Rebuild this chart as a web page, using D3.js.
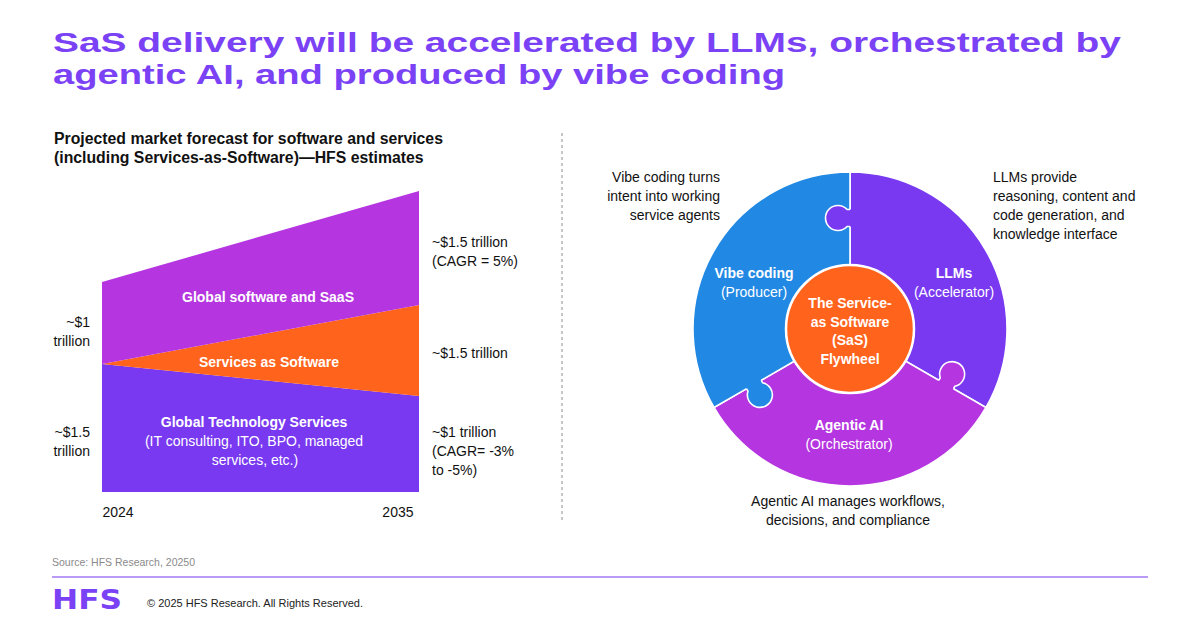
<!DOCTYPE html>
<html>
<head>
<meta charset="utf-8">
<script src="https://cdn.jsdelivr.net/npm/d3@7"></script>
<style>
  body { margin: 0; background: #fff; }
  svg text { font-family: "Liberation Sans", Arial, sans-serif; }
</style>
</head>
<body>
<div id="chart"></div>
<script>
// ---- data ----
const years = [2024, 2035];
// relative size of each market band (stacked, bottom to top)
const techServices = [1.28, 0.96];
const servicesAsSoftware = [0, 0.91];
const softwareSaaS = [0.82, 1.14];
const seriesKeys = ['tech', 'sas', 'software'];

const leftNotes = [['~$1', 'trillion'], ['~$1.5', 'trillion']];
const rightNotes = [
  ['~$1.5 trillion', '(CAGR = 5%)'],
  ['~$1.5 trillion'],
  ['~$1 trillion', '(CAGR= -3%', 'to -5%)']
];

// flywheel pieces (clockwise from 12 o'clock)
const pieceNames = ['LLMs', 'Agentic AI', 'Vibe coding'];
const pieceRoles = ['(Accelerator)', '(Orchestrator)', '(Producer)'];
const pieceShare = [1, 1, 1];
const hubLines = ['The Service-', 'as Software', '(SaS)', 'Flywheel'];

const colors = {
  tech: '#7839F1', sas: '#FF631C', software: '#B535E0',
  blue: '#2189E3', title: '#7B42F5'
};

const W = 1200, H = 627;
const svg = d3.select('#chart').append('svg')
  .attr('width', W).attr('height', H);

// ---- header ----
const title = svg.append('g').attr('fill', colors.title)
  .style('font-family', '"DejaVu Sans", sans-serif')
  .style('font-weight', 'bold').style('font-size', '27px');
title.append('text').attr('x', 53).attr('y', 52)
  .attr('textLength', 1068).attr('lengthAdjust', 'spacingAndGlyphs')
  .text('SaS delivery will be accelerated by LLMs, orchestrated by');
title.append('text').attr('x', 53).attr('y', 84)
  .attr('textLength', 732).attr('lengthAdjust', 'spacingAndGlyphs')
  .text('agentic AI, and produced by vibe coding');

const sub = svg.append('g').style('font-weight', 'bold').style('font-size', '15.8px').attr('fill', '#111');
sub.append('text').attr('x', 54).attr('y', 144).text('Projected market forecast for software and services');
sub.append('text').attr('x', 54).attr('y', 163).text('(including Services-as-Software)\u2014HFS estimates');

// ---- stacked area ----
const table = years.map((y, i) => ({
  year: y, tech: techServices[i], sas: servicesAsSoftware[i], software: softwareSaaS[i]
}));
const stack = d3.stack().keys(seriesKeys);
const layers = stack(table);

const x = d3.scaleLinear().domain(d3.extent(years)).range([102, 419]);
const y = d3.scaleLinear()
  .domain([0, d3.max(table, d => d.tech + d.sas + d.software)])
  .range([492, 191]);

const area = d3.area()
  .x(d => x(d.data.year))
  .y0(d => y(d[0]))
  .y1(d => y(d[1]));

svg.append('g').selectAll('path')
  .data(layers)
  .join('path')
  .attr('d', area)
  .attr('fill', d => colors[d.key]);

// year axis
const xAxis = svg.append('g')
  .attr('transform', 'translate(0,504)')
  .call(d3.axisBottom(x).tickValues(years).tickFormat(d3.format('d')).tickSize(0));
xAxis.select('.domain').remove();
xAxis.selectAll('text')
  .style('font-family', '"Liberation Sans", Arial, sans-serif')
  .style('font-size', '14px').attr('fill', '#111').attr('dy', '0.7em')
  .attr('dx', (d, i) => i === 0 ? 0 : -6)
  .attr('text-anchor', (d, i) => i === 0 ? 'start' : 'end');

// band labels
const inner = svg.append('g').attr('fill', '#fff').attr('text-anchor', 'middle').style('font-size', '14px');
inner.append('text').attr('x', 268).attr('y', 302).style('font-weight', 'bold').text('Global software and SaaS');
inner.append('text').attr('x', 269).attr('y', 367).style('font-weight', 'bold').text('Services as Software');
inner.append('text').attr('x', 254).attr('y', 427).style('font-weight', 'bold').text('Global Technology Services');
inner.append('text').attr('x', 254).attr('y', 446).text('(IT consulting, ITO, BPO, managed');
inner.append('text').attr('x', 255).attr('y', 465).text('services, etc.)');

// side notes
function lines(g, arr, x0, y0, anchor) {
  arr.forEach((t, i) => g.append('text').attr('x', x0).attr('y', y0 + i * 19)
    .attr('text-anchor', anchor).text(t));
}
const notes = svg.append('g').attr('fill', '#111').style('font-size', '14px');
[327, 437].forEach((yy, i) => lines(notes, leftNotes[i], 90, yy, 'end'));
[247, 358, 437].forEach((yy, i) => lines(notes, rightNotes[i], 432, yy, 'start'));

// divider
svg.append('line').attr('x1', 562).attr('x2', 562).attr('y1', 133).attr('y2', 522)
  .attr('stroke', '#8c8c8c').attr('stroke-dasharray', '3,3');

// ---- flywheel ----
const cx = 850, cy = 329, rIn = 64, rOut = 157, rMid = 111;
const pieceColor = [colors.tech, colors.software, colors.blue];
const pie = d3.pie().sort(null).value(d => d);
const arcs = pie(pieceShare);
const arc = d3.arc().innerRadius(rIn).outerRadius(rOut);

const wheel = svg.append('g');
wheel.selectAll('path.piece')
  .data(arcs)
  .join('path')
  .attr('class', 'piece')
  .attr('transform', `translate(${cx},${cy})`)
  .attr('d', arc)
  .attr('fill', (d, i) => pieceColor[i])
  .attr('stroke', '#fff').attr('stroke-width', 1.6);

// puzzle tabs: each piece pokes into its counter-clockwise neighbour
const tabR = 12.5, tabD = 12, neck = 8.5;
arcs.forEach((d, i) => {
  const th = d.startAngle;
  const U = [Math.sin(th), -Math.cos(th)];
  const V = [-Math.cos(th), -Math.sin(th)];
  const pt = (a, b) => [cx + (rMid + a) * U[0] + b * V[0], cy + (rMid + a) * U[1] + b * V[1]];
  const C = pt(0, tabD);
  const vi = tabD - Math.sqrt(tabR * tabR - neck * neck);
  const p1 = pt(-neck, vi), p2 = pt(neck, vi);
  const a0 = Math.atan2(p1[1] - C[1], p1[0] - C[0]);
  const a1 = Math.atan2(p2[1] - C[1], p2[0] - C[0]);
  const aV = Math.atan2(V[1], V[0]);
  const tau = 2 * Math.PI;
  const span = ((a1 - a0) % tau + tau) % tau;
  const ccw = !((((aV - a0) % tau) + tau) % tau < span);

  const fillP = d3.path();
  let s = pt(-neck, -2); fillP.moveTo(s[0], s[1]);
  fillP.lineTo(p1[0], p1[1]);
  fillP.arc(C[0], C[1], tabR, a0, a1, ccw);
  s = pt(neck, -2); fillP.lineTo(s[0], s[1]);
  fillP.closePath();
  wheel.append('path').attr('d', fillP.toString()).attr('fill', pieceColor[i]);

  const strokeP = d3.path();
  s = pt(-neck, 0); strokeP.moveTo(s[0], s[1]);
  strokeP.lineTo(p1[0], p1[1]);
  strokeP.arc(C[0], C[1], tabR, a0, a1, ccw);
  s = pt(neck, 0); strokeP.lineTo(s[0], s[1]);
  wheel.append('path').attr('d', strokeP.toString())
    .attr('fill', 'none').attr('stroke', '#fff').attr('stroke-width', 1.6);
});

wheel.append('circle').attr('cx', cx).attr('cy', cy).attr('r', rIn)
  .attr('fill', colors.sas).attr('stroke', '#fff').attr('stroke-width', 2.5);

// piece labels
const labelPos = [[954, 278], [849, 430], [754, 278]];
const wl = wheel.append('g').attr('fill', '#fff').attr('text-anchor', 'middle').style('font-size', '14px');
pieceNames.forEach((n, i) => {
  wl.append('text').attr('x', labelPos[i][0]).attr('y', labelPos[i][1])
    .style('font-weight', 'bold').text(n);
  wl.append('text').attr('x', labelPos[i][0]).attr('y', labelPos[i][1] + 19).text(pieceRoles[i]);
});
hubLines.forEach((t, i) => wl.append('text').attr('x', cx).attr('y', 308 + i * 18.7)
  .style('font-weight', 'bold').text(t));

// annotations
const ann = svg.append('g').attr('fill', '#111').style('font-size', '14px');
lines(ann, ['Vibe coding turns', 'intent into working', 'service agents'], 720, 182, 'end');
lines(ann, ['LLMs provide', 'reasoning, content and', 'code generation, and', 'knowledge interface'], 993, 182, 'start');
lines(ann, ['Agentic AI manages workflows,', 'decisions, and compliance'], 848, 506, 'middle');

// ---- footer ----
svg.append('text').attr('x', 52).attr('y', 566).attr('fill', '#8a8a8a')
  .style('font-size', '10.5px').text('Source: HFS Research, 20250');
svg.append('line').attr('x1', 52).attr('x2', 1148).attr('y1', 577).attr('y2', 577)
  .attr('stroke', '#B99AF6').attr('stroke-width', 2);
svg.append('text').attr('x', 52).attr('y', 609).attr('fill', colors.title)
  .style('font-family', '"DejaVu Sans", sans-serif').style('font-weight', 'bold')
  .style('font-size', '27px').attr('textLength', 70).attr('lengthAdjust', 'spacingAndGlyphs')
  .text('HFS');
svg.append('text').attr('x', 147).attr('y', 607).attr('fill', '#222')
  .style('font-size', '11px').text('\u00a9 2025 HFS Research. All Rights Reserved.');
</script>
</body>
</html>
